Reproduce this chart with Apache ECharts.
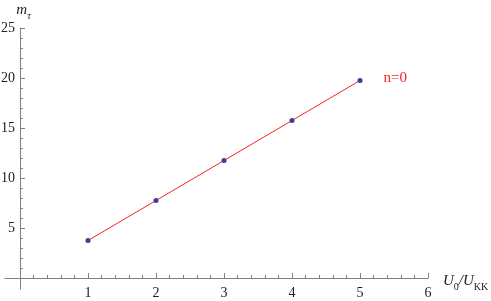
<!DOCTYPE html>
<html><head><meta charset="utf-8">
<script src="https://cdn.jsdelivr.net/npm/echarts@6/dist/echarts.min.js"></script>
<style>html,body{margin:0;padding:0;background:#fff}#c{width:491px;height:301px}</style>
</head><body><div id="c"></div>
<script>
const xValues = [1, 2, 3, 4, 5];
const yValues = [3.75, 7.75, 11.75, 15.75, 19.75];
const xTickLabels = [1, 2, 3, 4, 5, 6];
const yTickLabels = [5, 10, 15, 20, 25];
const seriesLabel = 'n=0';

const xMinor = []; for (let i = 1; i <= 30; i++) xMinor.push(+(i * 0.2).toFixed(2));
const yMinor = []; for (let i = 1; i <= 25; i++) yMinor.push(i);

const font = '"Liberation Serif", "DejaVu Serif", serif';
const axisColor = '#808080';
const labelColor = '#222';

const chart = echarts.init(document.getElementById('c'), null, {renderer: 'canvas'});
const noLine = {show: false};
chart.setOption({
  animation: false,
  grid: [
    {left: 5, right: 63, top: 28, bottom: 12, containLabel: false, outerBoundsMode: 'none'},
    {left: 20, right: 63, top: 28, bottom: 23, containLabel: false, outerBoundsMode: 'none'}
  ],
  xAxis: [
    {gridIndex: 0, type: 'value', min: -0.22, max: 6, splitLine: noLine,
      axisLine: {show: true, onZero: true, lineStyle: {color: axisColor, width: 1}},
      axisTick: {show: true, inside: true, length: 5, customValues: xTickLabels, lineStyle: {color: axisColor}},
      axisLabel: {show: false}},
    {gridIndex: 0, type: 'value', min: -0.22, max: 6, splitLine: noLine, position: 'bottom',
      axisLine: {show: false, onZero: true},
      axisTick: {show: true, inside: true, length: 3, customValues: xMinor, lineStyle: {color: axisColor}},
      axisLabel: {show: false}},
    {gridIndex: 1, type: 'value', min: 0, max: 6, splitLine: noLine,
      axisLine: noLine, axisTick: noLine,
      axisLabel: {show: true, customValues: xTickLabels, margin: 8, color: labelColor, fontFamily: font, fontSize: 14},
      name: '{i|U}{s|0}{n|/}{i|U}{k|KK}',
      nameLocation: 'end', nameGap: 15,
      nameTextStyle: {
        padding: [6, 0, 0, 0],
        rich: {
          i: {fontFamily: font, fontStyle: 'italic', fontSize: 15, color: labelColor},
          n: {fontFamily: font, fontStyle: 'italic', fontSize: 15, color: labelColor},
          s: {fontFamily: font, fontSize: 10, color: labelColor, verticalAlign: 'bottom', padding: [0, 0, -4, 0]},
          k: {fontFamily: font, fontSize: 10, color: labelColor, verticalAlign: 'bottom', padding: [0, 0, -4, 0]}
        }
      }}
  ],
  yAxis: [
    {gridIndex: 0, type: 'value', min: -1.1, max: 25, splitLine: noLine,
      axisLine: {show: true, onZero: true, lineStyle: {color: axisColor, width: 1}},
      axisTick: {show: true, inside: true, length: 5, customValues: yTickLabels, lineStyle: {color: axisColor}},
      axisLabel: {show: false}},
    {gridIndex: 0, type: 'value', min: -1.1, max: 25, splitLine: noLine, position: 'left',
      axisLine: {show: false, onZero: true},
      axisTick: {show: true, inside: true, length: 3, customValues: yMinor, lineStyle: {color: axisColor}},
      axisLabel: {show: false}},
    {gridIndex: 1, type: 'value', min: 0, max: 25, splitLine: noLine,
      axisLine: noLine, axisTick: noLine,
      axisLabel: {show: true, customValues: yTickLabels, margin: 5, color: labelColor, fontFamily: font, fontSize: 14},
      name: '{i|m}{s|τ}',
      nameLocation: 'end', nameGap: 10,
      nameTextStyle: {
        padding: [0, 0, 0, 7],
        rich: {
          i: {fontFamily: font, fontStyle: 'italic', fontSize: 15, color: labelColor},
          s: {fontFamily: font, fontStyle: 'italic', fontSize: 10, color: labelColor, verticalAlign: 'bottom', padding: [0, 0, -4, 0]}
        }
      }}
  ],
  series: [
    {
      type: 'line',
      xAxisIndex: 2, yAxisIndex: 2,
      data: xValues.map((x, i) => [x, yValues[i]]),
      lineStyle: {color: '#ff2020', width: 1},
      showSymbol: true, symbol: 'circle', symbolSize: 5,
      itemStyle: {color: '#3d3d99'},
      label: {
        show: true, position: 'right', distance: 21,
        formatter: p => p.dataIndex === xValues.length - 1 ? seriesLabel : '',
        color: '#ff2020', fontFamily: font, fontSize: 15, offset: [0, -2]
      },
      z: 3
    }
  ]
});
</script>
</body></html>
